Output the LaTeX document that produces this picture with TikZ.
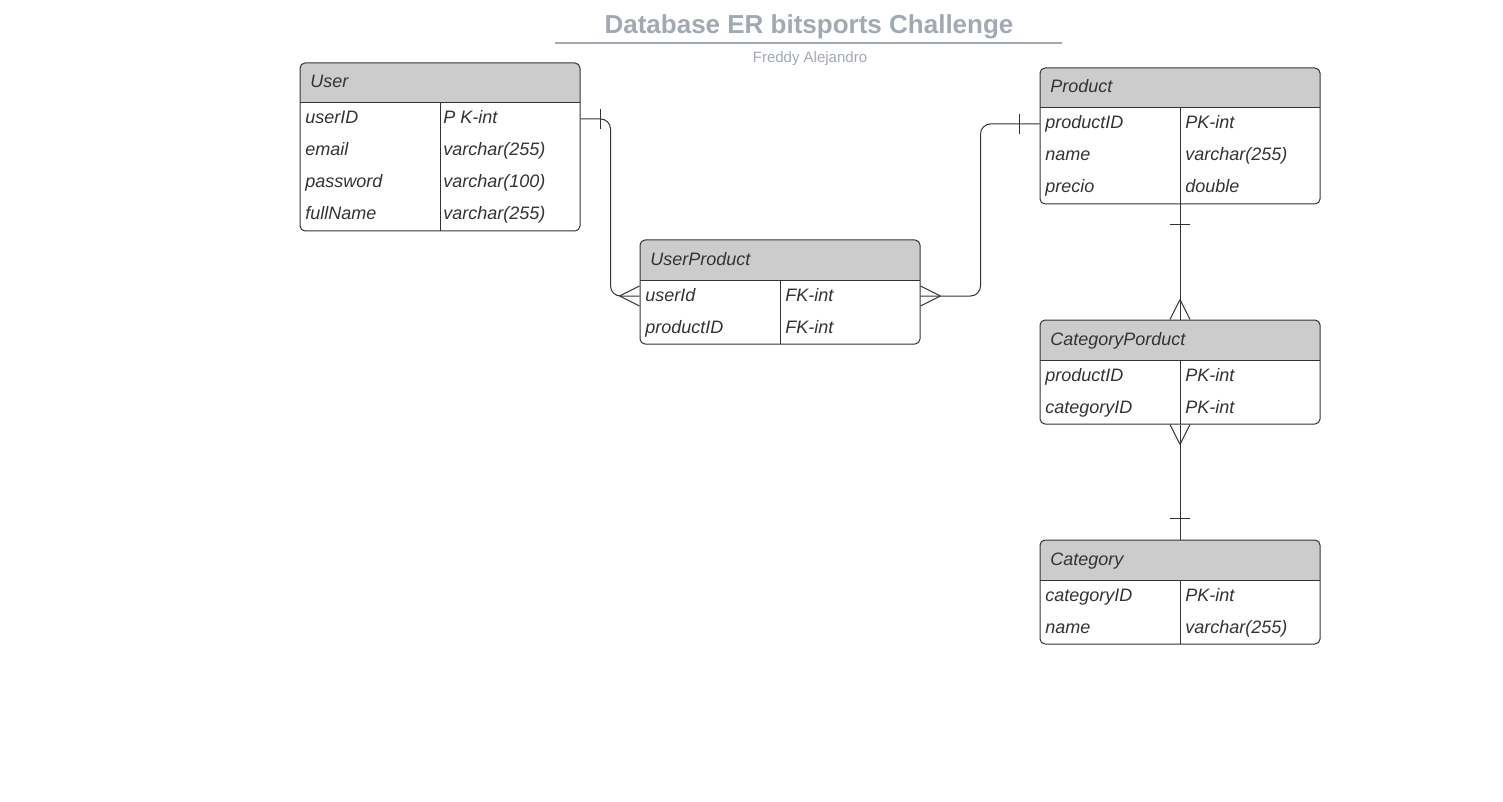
\documentclass[tikz,border=0pt]{standalone}
\usepackage{fontspec}
\setmainfont{Liberation Sans}
\usepackage{xcolor}
\usepackage{tikz}

\definecolor{headgray}{HTML}{CCCCCC}
\definecolor{inkgray}{HTML}{333333}
\definecolor{titlegray}{HTML}{A3A9B3}

\begin{document}
\begin{tikzpicture}[x=0.5pt, y=-0.5pt,
    table/.style={draw=inkgray, line width=0.5pt, fill=white, rounded corners=2.5pt, inner sep=0, minimum width=140pt,
      path picture={
        \fill[headgray, sharp corners] (path picture bounding box.north west) rectangle ([yshift=-20pt]path picture bounding box.north east);
        \draw[inkgray, line width=0.5pt, sharp corners] ([yshift=-20pt]path picture bounding box.north west) -- ([yshift=-20pt]path picture bounding box.north east);
        \draw[inkgray, line width=0.5pt, sharp corners] ([xshift=70pt, yshift=-20pt]path picture bounding box.north west) -- ([xshift=70pt]path picture bounding box.south west);
      }},
    field/.style={anchor=west, inner sep=0, text height=6.5pt, text depth=1.5pt, text=inkgray, font=\itshape\fontsize{9}{11}\selectfont},
    link/.style={draw=inkgray, line width=0.5pt}]
    \fill[white] (0,0) rectangle (1503,802);
    \useasboundingbox (0,0) rectangle (1503,802);

    \draw (809,27) node (title) [text=titlegray, font=\bfseries\fontsize{13}{15}\selectfont] {Database ER bitsports Challenge};
    \draw[titlegray, line width=0.6pt] (555,43) -- (1062,43);
    \draw (810,59) node (author) [text=titlegray, font=\fontsize{7.5}{9}\selectfont] {Freddy Alejandro};

    \draw (440,147) node (user) [table, minimum height=84pt] {};
    \draw (310,83) node (usertitle) [field] {User};
    \draw (305,119) node (uid) [field] {userID};
    \draw (305,151) node (uemail) [field] {email};
    \draw (305,183) node (upass) [field] {password};
    \draw (305,215) node (uname) [field] {fullName};
    \draw (443,119) node (uidtype) [field] {P K-int};
    \draw (443,151) node (uemailtype) [field] {varchar(255)};
    \draw (443,183) node (upasstype) [field] {varchar(100)};
    \draw (443,215) node (unametype) [field] {varchar(255)};

    \draw (1180,136) node (product) [table, minimum height=68pt] {};
    \draw (1050,88) node (producttitle) [field] {Product};
    \draw (1045,124) node (pid) [field] {productID};
    \draw (1045,156) node (pname) [field] {name};
    \draw (1045,188) node (pprecio) [field] {precio};
    \draw (1185,124) node (pidtype) [field] {PK-int};
    \draw (1185,156) node (pnametype) [field] {varchar(255)};
    \draw (1185,188) node (ppreciotype) [field] {double};

    \draw (780,292) node (userproduct) [table, minimum height=52pt] {};
    \draw (650,260) node (userproducttitle) [field] {UserProduct};
    \draw (645,296) node (upuid) [field] {userId};
    \draw (645,328) node (uppid) [field] {productID};
    \draw (785,296) node (upuidtype) [field] {FK-int};
    \draw (785,328) node (uppidtype) [field] {FK-int};

    \draw (1180,372) node (categoryproduct) [table, minimum height=52pt] {};
    \draw (1050,340) node (categoryproducttitle) [field] {CategoryPorduct};
    \draw (1045,376) node (cppid) [field] {productID};
    \draw (1045,408) node (cpcid) [field] {categoryID};
    \draw (1185,376) node (cppidtype) [field] {PK-int};
    \draw (1185,408) node (cpcidtype) [field] {PK-int};

    \draw (1180,592) node (category) [table, minimum height=52pt] {};
    \draw (1050,560) node (categorytitle) [field] {Category};
    \draw (1045,596) node (cid) [field] {categoryID};
    \draw (1045,628) node (cname) [field] {name};
    \draw (1185,596) node (cidtype) [field] {PK-int};
    \draw (1185,628) node (cnametype) [field] {varchar(255)};

    % user -- userproduct
    \draw[link, rounded corners=5pt] (user.east |- uid) -- ++(30,0) |- (userproduct.west |- upuid);
    \draw[link] (user.east |- uid) ++(20,-10) -- ++(0,20);
    \draw[link] (userproduct.west |- upuid) ++(-20,0) -- ++(20,-10) ++(-20,10) -- ++(20,10);

    % userproduct -- product
    \draw[link, rounded corners=5pt] (userproduct.east |- upuid) -- ++(60,0) |- (product.west |- pid);
    \draw[link] (userproduct.east |- upuid) ++(20,0) -- ++(-20,-10) ++(20,10) -- ++(-20,10);
    \draw[link] (product.west |- pid) ++(-20,-10) -- ++(0,20);

    % product -- categoryproduct
    \draw[link] (product.south) -- (categoryproduct.north);
    \draw[link] (product.south) ++(-10,20) -- ++(20,0);
    \draw[link] (categoryproduct.north) ++(0,-20) -- ++(-10,20) ++(10,-20) -- ++(10,20);

    % categoryproduct -- category
    \draw[link] (categoryproduct.south) -- (category.north);
    \draw[link] (categoryproduct.south) ++(0,20) -- ++(-10,-20) ++(10,20) -- ++(10,-20);
    \draw[link] (category.north) ++(-10,-21) -- ++(20,0);
\end{tikzpicture}
\end{document}
